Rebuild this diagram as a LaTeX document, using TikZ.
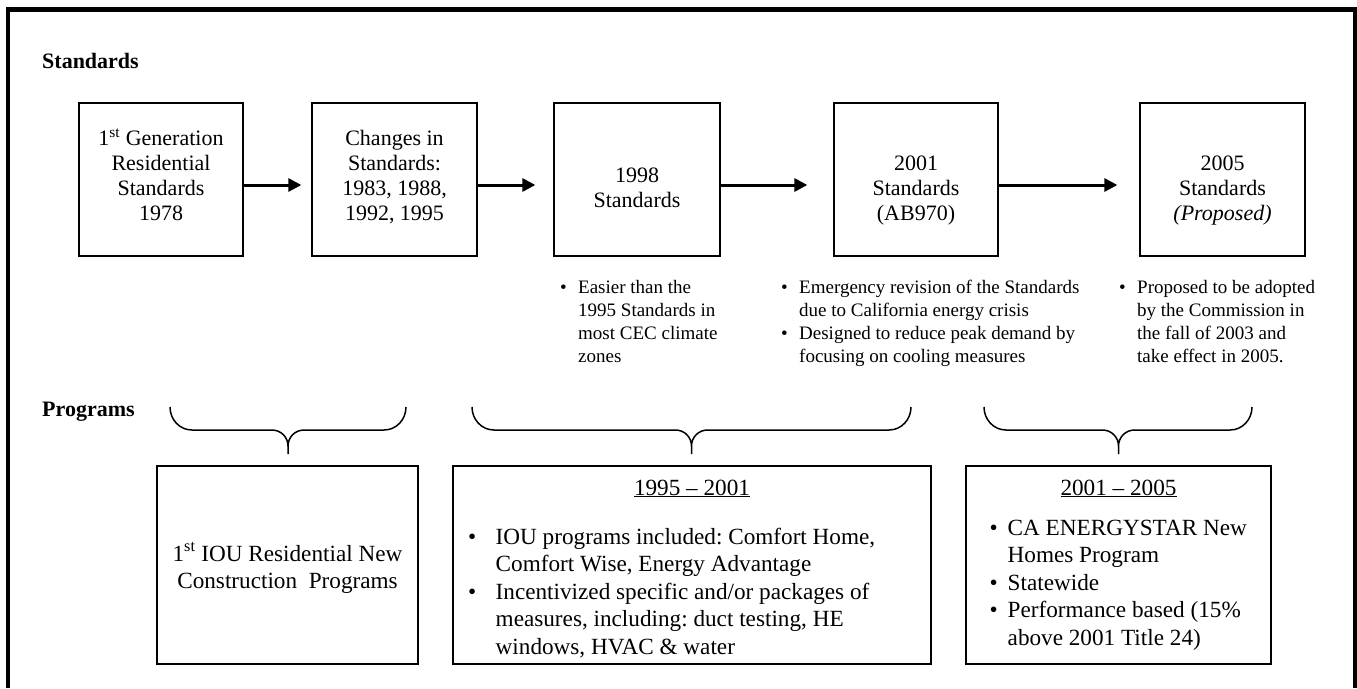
\documentclass[tikz,border=0pt]{standalone}
\usepackage{fontspec}
\setmainfont{Liberation Serif}
\usetikzlibrary{arrows.meta}
\frenchspacing
\newcommand\progbrace[4]{%
  \draw[brace] (#2,407) to[out=-90,in=180] ({#2+22},430) -- ({#3-16},430)
     to[out=0,in=90] (#3,446) -- (#3,454)
     (#3,446) to[out=90,in=180] ({#3+16},430) -- ({#4-22},430)
     to[out=0,in=-90] (#4,407);
  \coordinate (#1) at (#3,454);}
\begin{document}
\begin{tikzpicture}[x=1pt,y=-1pt,
  frame/.style={line width=4.5pt, line join=miter},
  stdbox/.style={draw, line width=1.3pt, inner sep=0pt, minimum height=153pt},
  progbox/.style={draw, line width=1.3pt, inner sep=0pt, minimum height=198pt},
  boxtext/.style={anchor=base, inner sep=0pt, font=\fontsize{22}{25}\selectfont},
  bultext/.style={anchor=base west, inner sep=0pt, font=\fontsize{19}{23.3}\selectfont},
  progtext/.style={anchor=base, inner sep=0pt, font=\fontsize{23.2}{27}\selectfont},
  proglist/.style={anchor=base west, inner sep=0pt, font=\fontsize{23.2}{27.5}\selectfont},
  heading/.style={anchor=base west, inner sep=0pt, font=\fontsize{22}{25}\selectfont\bfseries},
  flow/.style={line width=3pt, -{Triangle[length=13pt,width=13pt]}},
  brace/.style={line width=1.5pt}]
\useasboundingbox (0,0) rectangle (1357,688);
\draw[frame] (8,688) -- (8,9.5) -- (1355,9.5) -- (1355,688);

\node[heading] (hstd) at (42,68) {Standards};
\node[heading] (hprog) at (42,416) {Programs};

% standards boxes
\node[stdbox, minimum width=164pt] (b1) at (161,179.5) {};
\node[stdbox, minimum width=165pt] (b2) at (394.5,179.5) {};
\node[stdbox, minimum width=166pt] (b3) at (637,179.5) {};
\node[stdbox, minimum width=164pt] (b4) at (916,179.5) {};
\node[stdbox, minimum width=165pt] (b5) at (1222.5,179.5) {};

\node[boxtext] (t1) at (161,145) {\begin{tabular}[t]{@{}c@{}}1\textsuperscript{st} Generation\\ Residential\\ Standards\\ 1978\end{tabular}};
\node[boxtext] (t2) at (394.5,145) {\begin{tabular}[t]{@{}c@{}}Changes in\\ Standards:\\ 1983, 1988,\\ 1992, 1995\end{tabular}};
\node[boxtext] (t3) at (637,182) {\begin{tabular}[t]{@{}c@{}}1998\\ Standards\end{tabular}};
\node[boxtext] (t4) at (916,170) {\begin{tabular}[t]{@{}c@{}}2001\\ Standards\\ (AB970)\end{tabular}};
\node[boxtext] (t5) at (1222.5,170) {\begin{tabular}[t]{@{}c@{}}2005\\ Standards\\ \textit{(Proposed)}\end{tabular}};

\draw[flow, shorten >=10pt] ([yshift=-5.5pt]b1.east) -- ([yshift=-5.5pt]b2.west);
\draw[flow, shorten >=18pt] ([yshift=-5.5pt]b2.east) -- ([yshift=-5.5pt]b3.west);
\draw[flow, shorten >=26pt] ([yshift=-5.5pt]b3.east) -- ([yshift=-5.5pt]b4.west);
\draw[flow, shorten >=22pt] ([yshift=-5.5pt]b4.east) -- ([yshift=-5.5pt]b5.west);

% notes under standards
\node[bultext] (n3) at (560,293) {\begin{tabular}[t]{@{}l@{}l@{}}\makebox[18pt][l]{\textbullet} & Easier than the\\ & 1995 Standards in\\ & most CEC climate\\ & zones\end{tabular}};
\node[bultext] (n4) at (781,293) {\begin{tabular}[t]{@{}l@{}l@{}}\makebox[18pt][l]{\textbullet} & Emergency revision of the Standards\\ & due to California energy crisis\\ \makebox[18pt][l]{\textbullet} & Designed to reduce peak demand by\\ & focusing on cooling measures\end{tabular}};
\node[bultext] (n5) at (1119,293) {\begin{tabular}[t]{@{}l@{}l@{}}\makebox[18pt][l]{\textbullet} & Proposed to be adopted\\ & by the Commission in\\ & the fall of 2003 and\\ & take effect in 2005.\end{tabular}};

% braces
\progbrace{k1}{170}{288}{406}
\progbrace{k2}{472}{691.5}{911}
\progbrace{k3}{984}{1118.5}{1252}

% program boxes
\node[progbox, minimum width=261pt] (p1) at (287.5,565) {};
\node[progbox, minimum width=478pt] (p2) at (692,565) {};
\node[progbox, minimum width=305pt] (p3) at (1118.5,565) {};

\node[progtext] (q1) at (287.5,561) {\begin{tabular}[t]{@{}c@{}}1\textsuperscript{st} IOU Residential New\\ Construction~ Programs\end{tabular}};
\node[progtext] (q2t) at (692,495) {\underline{1995 – 2001}};
\node[proglist] (q2) at (468,544) {\begin{tabular}[t]{@{}l@{}l@{}}\makebox[27.5pt][l]{\textbullet} & IOU programs included: Comfort Home,\\ & Comfort Wise, Energy Advantage\\ \makebox[27.5pt][l]{\textbullet} & Incentivized specific and/or packages of\\ & measures, including: duct testing, HE\\ & windows, HVAC \& water\end{tabular}};
\node[progtext] (q3t) at (1118.5,495) {\underline{2001 – 2005}};
\node[proglist] (q3) at (989.5,535) {\begin{tabular}[t]{@{}l@{}l@{}}\makebox[18pt][l]{\textbullet} & CA ENERGYSTAR New\\ & Homes Program\\ \makebox[18pt][l]{\textbullet} & Statewide\\ \makebox[18pt][l]{\textbullet} & Performance based (15\%\\ & above 2001 Title 24)\end{tabular}};
\end{tikzpicture}
\end{document}
